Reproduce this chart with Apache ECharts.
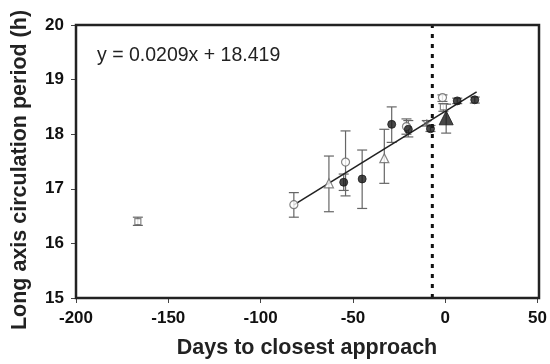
<!DOCTYPE html>
<html><head><meta charset="utf-8">
<script src="https://cdn.jsdelivr.net/npm/echarts@6/dist/echarts.min.js"></script>
<style>html,body{margin:0;padding:0;background:#fff}#c{width:550px;height:364px}</style>
</head><body><div id="c"></div>
<script>
// Data: [day, period, errLow, errHigh]
const filledCircles = [
  [-55, 17.12, 16.97, 17.27],
  [-45, 17.18, 16.64, 17.71],
  [-29, 18.18, 17.85, 18.50],
  [-20, 18.09, 17.95, 18.25],
  [-8, 18.10, 18.05, 18.16],
  [6.5, 18.61, 18.56, 18.66],
  [16, 18.63, 18.57, 18.68]
];
const openCircles = [
  [-82, 16.71, 16.48, 16.93],
  [-54, 17.49, 16.87, 18.06],
  [-21, 18.14, 18.00, 18.28],
  [-1.5, 18.67, 18.60, 18.72]
];
const openTriangles = [
  [-63, 17.10, 16.58, 17.60],
  [-33, 17.56, 17.10, 18.09]
];
const filledTriangles = [
  [0.5, 18.30, 18.02, 18.55]
];
const openSquares = [
  [-166.5, 16.40, 16.33, 16.48],
  [-1, 18.50, 18.42, 18.56]
];
const asterisks = [
  [-10, 18.20, 18.15, 18.25]
];
const slope = 0.0209, intercept = 18.419;
const fitRange = [-82, 17];
const closestLine = -7;
const xTicks = [-200, -150, -100, -50, 0, 50];
const yTicks = [15, 16, 17, 18, 19, 20];

const allPts = [].concat(filledCircles, openCircles, openTriangles, filledTriangles, openSquares, asterisks);
const fitLine = fitRange.map(x => [x, slope * x + intercept]);

const chart = echarts.init(document.getElementById('c'));
const FONT = 'Liberation Sans, Arial, sans-serif';
const lbl = {color:'#111', fontFamily:FONT, fontWeight:'bold', fontSize:17};
function scatter(data, symbol, size, filled, z) {
  return {
    type:'scatter', data: data.map(d=>[d[0], d[1]]), symbol: symbol, symbolSize: size, z: z||5,
    itemStyle: filled ? {color:'#1a1a1a', borderColor:'#1a1a1a', borderWidth:1}
                      : {color:'#fff', borderColor:'#666', borderWidth:1.2}
  };
}
chart.setOption({
  animation:false,
  grid:{left:76, right:11, top:25, bottom:66},
  xAxis:{type:'value', min:-200, max:50, interval:50,
    axisLine:{show:true, onZero:false, lineStyle:{color:'#222', width:2}},
    axisTick:{show:true, length:5, lineStyle:{color:'#444'}},
    splitLine:{show:false},
    axisLabel:Object.assign({margin:12}, lbl)
  },
  yAxis:{type:'value', min:15, max:20, interval:1,
    axisLine:{show:true, onZero:false, lineStyle:{color:'#222', width:2}},
    axisTick:{show:true, length:5, lineStyle:{color:'#444'}},
    splitLine:{show:false},
    axisLabel:Object.assign({margin:12}, lbl)
  },
  graphic:[
    {type:'rect', z:100, shape:{x:76, y:25, width:463, height:273}, style:{fill:null, stroke:'#222', lineWidth:2.5}},
    {type:'text', left:97, top:46, style:{text:'y = 0.0209x + 18.419', font:'19.5px ' + FONT, fill:'#222'}},
    {type:'text', x:307, y:348, style:{text:'Days to closest approach', font:'bold 21.5px ' + FONT, fill:'#222', align:'center', verticalAlign:'middle'}},
    {type:'text', x:20, y:170, rotation:Math.PI/2, style:{text:'Long axis circulation period (h)', font:'bold 21.5px ' + FONT, fill:'#222', align:'center', verticalAlign:'middle'}}
  ],
  series:[
    {type:'custom', z:3, data: allPts,
      renderItem:function(params, api){
        const x = api.value(0);
        const lo = api.coord([x, api.value(2)]);
        const hi = api.coord([x, api.value(3)]);
        const w = 5;
        const st = {stroke:'#666', lineWidth:1.2};
        return {type:'group', children:[
          {type:'line', shape:{x1:lo[0], y1:lo[1], x2:hi[0], y2:hi[1]}, style:st},
          {type:'line', shape:{x1:lo[0]-w, y1:lo[1], x2:lo[0]+w, y2:lo[1]}, style:st},
          {type:'line', shape:{x1:hi[0]-w, y1:hi[1], x2:hi[0]+w, y2:hi[1]}, style:st}
        ]};
      }
    },
    {type:'line', data: fitLine, symbol:'none', z:4, lineStyle:{color:'#222', width:1.6}},
    {type:'line', data:[[closestLine,15],[closestLine,20]], symbol:'none', z:4,
      lineStyle:{color:'#111', width:3, type:[4,6]}},
    scatter(openCircles, 'circle', 8, false),
    scatter(openTriangles, 'triangle', 9, false),
    scatter(openSquares, 'rect', 6, false),
    scatter(asterisks, 'path://M0,-5L0,5M-4.3,-2.5L4.3,2.5M-4.3,2.5L4.3,-2.5', 8, false),
    scatter(filledCircles, 'circle', 8, true, 6),
    scatter(filledTriangles, 'triangle', 14, true, 6)
  ]
});
</script></body></html>
